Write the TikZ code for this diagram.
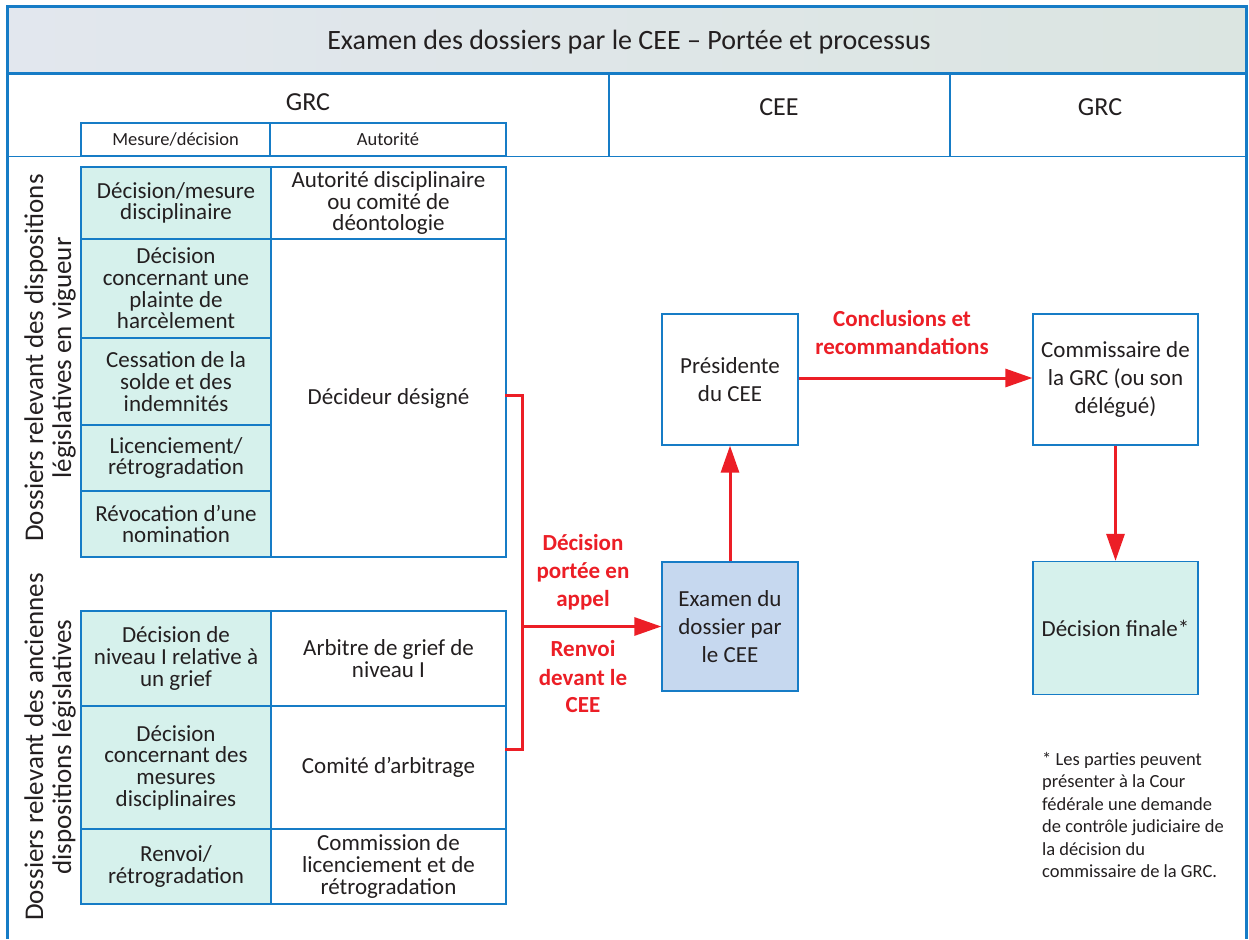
\documentclass[tikz,border=0pt]{standalone}
\usepackage{fontspec}
\setmainfont{Carlito}
\usetikzlibrary{arrows.meta,positioning}

\definecolor{cbleu}{RGB}{22,124,198}
\definecolor{cteal}{RGB}{214,241,236}
\definecolor{cexam}{RGB}{198,216,239}
\definecolor{crouge}{RGB}{236,30,38}
\definecolor{ctexte}{RGB}{35,31,32}

\tikzset{
  cellule/.style={draw=cbleu, line width=1.6pt, inner sep=0pt, align=center, text=ctexte,
    font=\fontsize{23}{21.7}\selectfont},
  mesure/.style={cellule, fill=cteal, minimum width=190pt},
  autorite/.style={cellule, fill=white, minimum width=235pt},
  soustitre/.style={cellule, line width=2pt, minimum height=33pt, font=\fontsize{18.5}{22}\selectfont},
  boite/.style={draw=cbleu, line width=1.3pt, fill=white, inner sep=0pt, minimum height=131pt,
    align=center, text=ctexte, font=\fontsize{23}{28}\selectfont},
  fleche/.style={draw=crouge, line width=3pt, -{Triangle[length=27pt,width=18pt]}},
  lien/.style={draw=crouge, line width=3pt},
  etiq/.style={text=crouge, align=center, font=\bfseries\fontsize{23}{28}\selectfont},
  entete/.style={text=ctexte, font=\fontsize{26}{30}\selectfont},
  cote/.style={rotate=90, align=center, text=ctexte, font=\fontsize{27}{28}\selectfont},
}

\begin{document}
\begin{tikzpicture}[x=1pt,y=-1pt]
\useasboundingbox (0,0) rectangle (1249,939);
\fill[white] (0,0) rectangle (1249,939);

% bandeau du titre
\shade[left color={rgb,255:red,226;green,231;blue,238}, middle color={rgb,255:red,248;green,248;blue,250},
  right color={rgb,255:red,219;green,229;blue,225}] (7,7) rectangle (1246,74);
\node[text=ctexte, font=\fontsize{28}{32}\selectfont] (titre) at (629,42) {Examen des dossiers par le CEE -- Portée et processus};

% cadre
\draw[cbleu, line width=3pt] (7,7) -- (1246,7);
\draw[cbleu, line width=3pt] (7,74) -- (1246,74);
\draw[cbleu, line width=3pt] (7,5.5) -- (7,939);
\draw[cbleu, line width=3pt] (1246,5.5) -- (1246,939);
\draw[cbleu, line width=1.5pt] (7,156.5) -- (1246,156.5);
\draw[cbleu, line width=1.3pt] (609,74) -- (609,156.5);
\draw[cbleu, line width=1.3pt] (950,74) -- (950,156.5);

% en-tetes
\node[entete] (grc1) at (308,102) {GRC};
\node[entete] (cee) at (779,107) {CEE};
\node[entete] (grc2) at (1100,107) {GRC};
\node[soustitre, minimum width=189pt] (colmes) at (175.5,139.5) {Mesure/décision};
\node[soustitre, minimum width=236pt] (colaut) at (388,139.5) {Autorité};

% dispositions en vigueur
\node[cote] (vigueur) at (50,358) {Dossiers relevant des dispositions\\législatives en vigueur};
\node[mesure, minimum height=72pt] (m1) at (176,203) {Décision/mesure\\disciplinaire};
\node[mesure, minimum height=99pt] (m2) at (176,288.5) {Décision\\concernant une\\plainte de\\harcèlement};
\node[mesure, minimum height=87pt] (m3) at (176,381.5) {Cessation de la\\solde et des\\indemnités};
\node[mesure, minimum height=66pt] (m4) at (176,458) {Licenciement/\\rétrogradation};
\node[mesure, minimum height=66pt] (m5) at (176,524) {Révocation d’une\\nomination};
\node[autorite, minimum height=72pt] (a1) at (388.5,203) {Autorité disciplinaire\\ou comité de\\déontologie};
\node[autorite, minimum height=318pt] (decideur) at (388.5,398) {Décideur désigné};

% anciennes dispositions
\node[cote] (anciennes) at (50,747) {Dossiers relevant des anciennes\\dispositions législatives};
\node[mesure, minimum height=95pt] (m6) at (176,658.5) {Décision de\\niveau I relative à\\un grief};
\node[mesure, minimum height=123pt] (m7) at (176,767.5) {Décision\\concernant des\\mesures\\disciplinaires};
\node[mesure, minimum height=75pt] (m8) at (176,866.5) {Renvoi/\\rétrogradation};
\node[autorite, minimum height=95pt] (a6) at (388.5,658.5) {Arbitre de grief de\\niveau I};
\node[autorite, minimum height=123pt] (comite) at (388.5,767.5) {Comité d’arbitrage};
\node[autorite, minimum height=75pt] (a8) at (388.5,866.5) {Commission de\\licenciement et de\\rétrogradation};

% processus
\node[boite, minimum width=136pt] (presid) at (730,379.5) {Présidente\\du CEE};
\node[boite, minimum width=136pt, fill=cexam, minimum height=129pt] (examen) at (730,626.5) {Examen du\\dossier par\\le CEE};
\node[boite, minimum width=165pt] (commis) at (1115.5,379.5) {Commissaire de\\la GRC (ou son\\délégué)};
\node[boite, minimum width=165pt, fill=cteal, minimum height=133pt] (finale) at (1115.5,628) {Décision finale*};

% renvois
\coordinate (haut) at (522,395);
\coordinate (bas) at (522,749);
\draw[lien, line cap=rect] (decideur.east |- haut) -- (haut) -- (bas) -- (comite.east |- bas);
\draw[fleche] (examen.west -| haut) -- (examen.west);
\node[etiq] (appel) at (583,572) {Décision\\portée en\\appel};
\node[etiq] (renvoi) at (583,677) {Renvoi\\devant le\\CEE};
\draw[fleche] (examen) -- (presid);
\draw[fleche] (presid.east |- 0,378) -- (commis.west |- 0,378);
\node[etiq] (concl) at (902,333) {Conclusions et\\recommandations};
\draw[fleche] (commis) -- (finale);

% note
\node[anchor=north west, inner sep=0pt, align=left, text=ctexte, font=\fontsize{18.5}{22.5}\selectfont] (note) at (1042,752)
  {* Les parties peuvent\\présenter à la Cour\\fédérale une demande\\de contrôle judiciaire de\\la décision du\\commissaire de la GRC.};
\end{tikzpicture}
\end{document}
